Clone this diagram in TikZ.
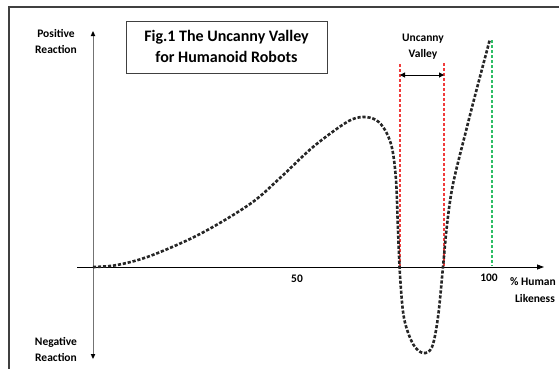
\documentclass[tikz,border=0pt]{standalone}
\usepackage{fontspec}
\setmainfont{Carlito}
\usetikzlibrary{arrows.meta}
\definecolor{vred}{HTML}{F03C3C}
\definecolor{vgreen}{HTML}{2DBE64}
\begin{document}
\begin{tikzpicture}[x=1pt,y=-1pt,
  lbl/.style={font=\bfseries\fontsize{11.5}{16}\selectfont, align=center, inner sep=0pt},
  marker/.style={line width=1.6pt, dash pattern=on 3pt off 2pt},
  curvestyle/.style={line width=2.6pt, dash pattern=on 3.2pt off 1.8pt, black!85}]
\useasboundingbox (0,0) rectangle (559,368);
\begin{scope}
\clip (0,0) rectangle (559,368);
\draw[line width=1.2pt, black!75] (9,7) rectangle (575,385);
% axes
\coordinate (ytop) at (93,31);
\coordinate (ybot) at (93,359);
\coordinate (xl) at (77,267);
\coordinate (xr) at (544,267);
\draw[black!55, line width=0.8pt] (93,36) -- (93,354);
\fill[black] (ytop) -- ++(-2.3,5) -- ++(4.6,0) -- cycle;
\fill[black] (ybot) -- ++(-2.3,-5) -- ++(4.6,0) -- cycle;
% uncanny valley markers
\coordinate (r1t) at (400,64);
\coordinate (r1b) at (400,267);
\coordinate (r2t) at (444,63);
\coordinate (r2b) at (444,267);
\coordinate (gt) at (492,40);
\coordinate (gb) at (492,266);
\draw[marker, draw=vred] (r1t) -- (r1b);
\draw[marker, draw=vred] (r2t) -- (r2b);
\draw[marker, draw=vgreen] (gt) -- (gb);
\draw[black, line width=0.8pt, -{Triangle[length=7pt,width=5pt]}] (xl) -- (xr);
% labels
\node[lbl] (pos) at (56,41) {Positive\\Reaction};
\node[lbl] (neg) at (56,349) {Negative\\Reaction};
\node[lbl] (t50) at (297,279) {50};
\node[lbl] (t100) at (489,278) {100};
\node[lbl, anchor=west] (hl) at (510,282) {\% Human};
\node[lbl] (lk) at (535,298) {Likeness};
% title box
\node[draw=black!75, line width=1pt, minimum width=201pt, minimum height=52pt, inner sep=0pt] (box) at (226.5,47) {};
\node[font=\bfseries\fontsize{16}{21}\selectfont, align=center] (title) at (226.5,46) {Fig.1 The Uncanny Valley\\for Humanoid Robots};
\node[lbl] (uv) at (423,47) {Uncanny\\Valley};
\coordinate (a1) at (400,75);
\coordinate (a2) at (444,75);
\draw[black, line width=1pt, {Triangle[length=5pt,width=5pt]}-{Triangle[length=5pt,width=5pt]}] (a1) -- (a2);
% curve
\draw[curvestyle] plot[smooth, tension=0.55] coordinates {
 (93,267) (117,265) (150,256) (200,234) (250,204) (280,178) (313,147) (347,122) (363,117)
 (376,120) (385,130) (392,148) (396,180) (398,230) (400,275) (404,318) (413,344) (423,353)
 (432,347) (438,317) (443,267) (447,225) (453,184) (467,127) (477,88) (490,39)};
\end{scope}
\end{tikzpicture}
\end{document}
